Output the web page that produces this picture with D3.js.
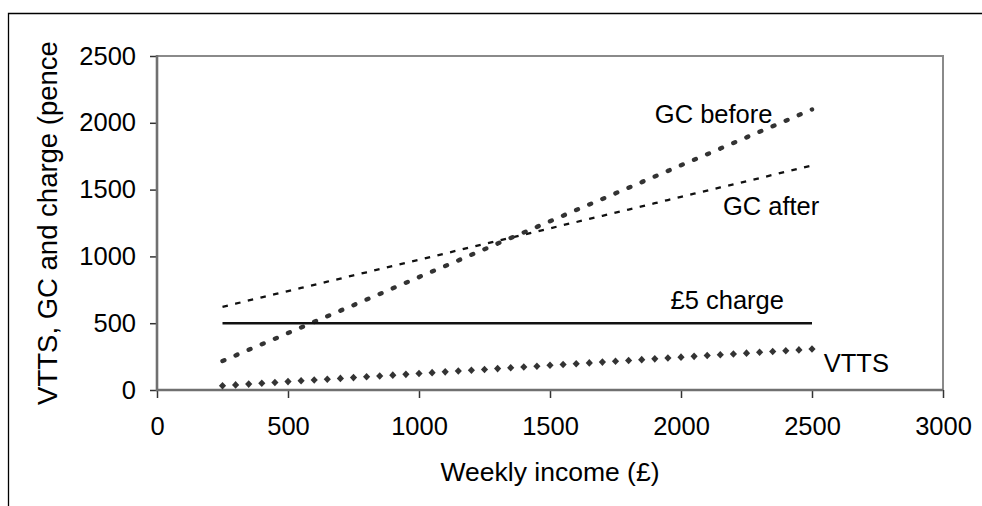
<!DOCTYPE html>
<html><head><meta charset="utf-8">
<script src="https://cdn.jsdelivr.net/npm/d3@7"></script>
<style>
html,body{margin:0;padding:0;background:#fff;}
svg{display:block;font-family:"Liberation Sans",Arial,sans-serif;}
</style></head>
<body>
<svg id="chart" width="982" height="506"></svg>
<script>
// ---- data ----
const income = [250,300,350,400,450,500,550,600,650,700,750,800,850,900,950,1000,1050,1100,1150,1200,1250,1300,1350,1400,1450,1500,1550,1600,1650,1700,1750,1800,1850,1900,1950,2000,2050,2100,2150,2200,2250,2300,2350,2400,2450,2500];
const vtts = [32,38,44,50,56,63,69,75,81,87,93,99,105,111,117,124,130,136,142,148,154,160,166,172,178,185,191,197,203,209,215,221,227,233,239,246,252,258,264,270,276,282,288,294,300,307];
const gcBefore = [217,259,301,343,384,426,468,510,552,594,635,677,719,761,803,845,887,928,970,1012,1054,1096,1138,1179,1221,1263,1305,1347,1389,1430,1472,1514,1556,1598,1640,1682,1723,1765,1807,1849,1891,1933,1974,2016,2058,2100];
const gcAfter = [623,646,670,693,717,740,764,787,811,834,858,881,905,928,952,975,999,1022,1046,1069,1093,1116,1140,1163,1187,1210,1234,1257,1281,1304,1328,1351,1375,1398,1422,1445,1469,1492,1516,1539,1563,1586,1610,1633,1657,1680];
const chargeIncome = [250,2500];
const chargeValues = [500,500];
const xTicks = [0,500,1000,1500,2000,2500,3000];
const yTicks = [0,500,1000,1500,2000,2500];
const labels = [
  {text:"GC before", income:1900, value:2000},
  {text:"GC after", income:2160, value:1310},
  {text:"£5 charge", income:1960, value:605},
  {text:"VTTS", income:2545, value:135}
];
const xTitle = "Weekly income (£)";
const yTitle = "VTTS, GC and charge (pence";

// ---- layout ----
const svg = d3.select("#chart");
const x = d3.scaleLinear().domain([0,3000]).range([157,943]);
const y = d3.scaleLinear().domain([0,2500]).range([390,56]);

// outer frame
svg.append("path").attr("d","M8.5,506V13.5H982").attr("fill","none").attr("stroke","#000").attr("stroke-width",1.3);

// plot border (top/right)
svg.append("path")
  .attr("d",`M${x(0)},${y(2500)}H${x(3000)}V${y(0)}`)
  .attr("fill","none").attr("stroke","#8a8a8a").attr("stroke-width",2);

// axes
const fs = 25.5;
const yAxis = svg.append("g").attr("transform",`translate(${x(0)},0)`)
  .call(d3.axisLeft(y).tickValues(yTicks).tickFormat(d3.format("d")).tickSize(7).tickSizeOuter(0).tickPadding(14));
const xAxis = svg.append("g").attr("transform",`translate(0,${y(0)})`)
  .call(d3.axisBottom(x).tickValues(xTicks).tickFormat(d3.format("d")).tickSize(8).tickSizeOuter(0).tickPadding(19));
[yAxis,xAxis].forEach(a=>{
  a.select(".domain").remove();
  a.selectAll(".tick line").attr("stroke","#333").attr("stroke-width",1.5);
  a.selectAll("text").attr("font-size",fs).attr("fill","#000").attr("font-family","Liberation Sans, Arial, sans-serif");
});
svg.append("line").attr("x1",x(0)).attr("x2",x(0)).attr("y1",y(2500)-1).attr("y2",y(0)+1)
  .attr("stroke","#707070").attr("stroke-width",2.6);
svg.append("line").attr("x1",x(0)-1).attr("x2",x(3000)).attr("y1",y(0)).attr("y2",y(0))
  .attr("stroke","#707070").attr("stroke-width",2.6);

// titles
svg.append("text").attr("x",(x(0)+x(3000))/2).attr("y",481).attr("text-anchor","middle")
  .attr("font-size",26.5).text(xTitle);
svg.append("text").attr("transform",`translate(57,${(y(0)+y(2500))/2}) rotate(-90)`)
  .attr("text-anchor","middle").attr("font-size",27.5).text(yTitle);

// series
const line = (vals, inc) => d3.line().x((d,i)=>x(inc[i])).y(d=>y(d))(vals);

svg.append("path").attr("d",line(gcAfter,income)).attr("fill","none")
  .attr("stroke","#111").attr("stroke-width",2.3).attr("stroke-dasharray","5.5,7.5");

svg.append("path").attr("d",line(gcBefore,income)).attr("fill","none")
  .attr("stroke","#333").attr("stroke-width",4.4).attr("stroke-linecap","round")
  .attr("stroke-dasharray","2,12.24");

svg.append("path").attr("d",line(chargeValues,chargeIncome)).attr("fill","none")
  .attr("stroke","#111").attr("stroke-width",2.4);

svg.append("g").selectAll("path").data(vtts).join("path")
  .attr("transform",(d,i)=>`translate(${x(income[i])},${y(d)})`)
  .attr("d","M0,-3.8L3.6,0L0,3.8L-3.6,0Z").attr("fill","#333");

// annotations
svg.append("g").selectAll("text").data(labels).join("text")
  .attr("x",d=>x(d.income)).attr("y",d=>y(d.value))
  .attr("font-size",fs).attr("fill","#000").text(d=>d.text);
</script>
</body></html>
